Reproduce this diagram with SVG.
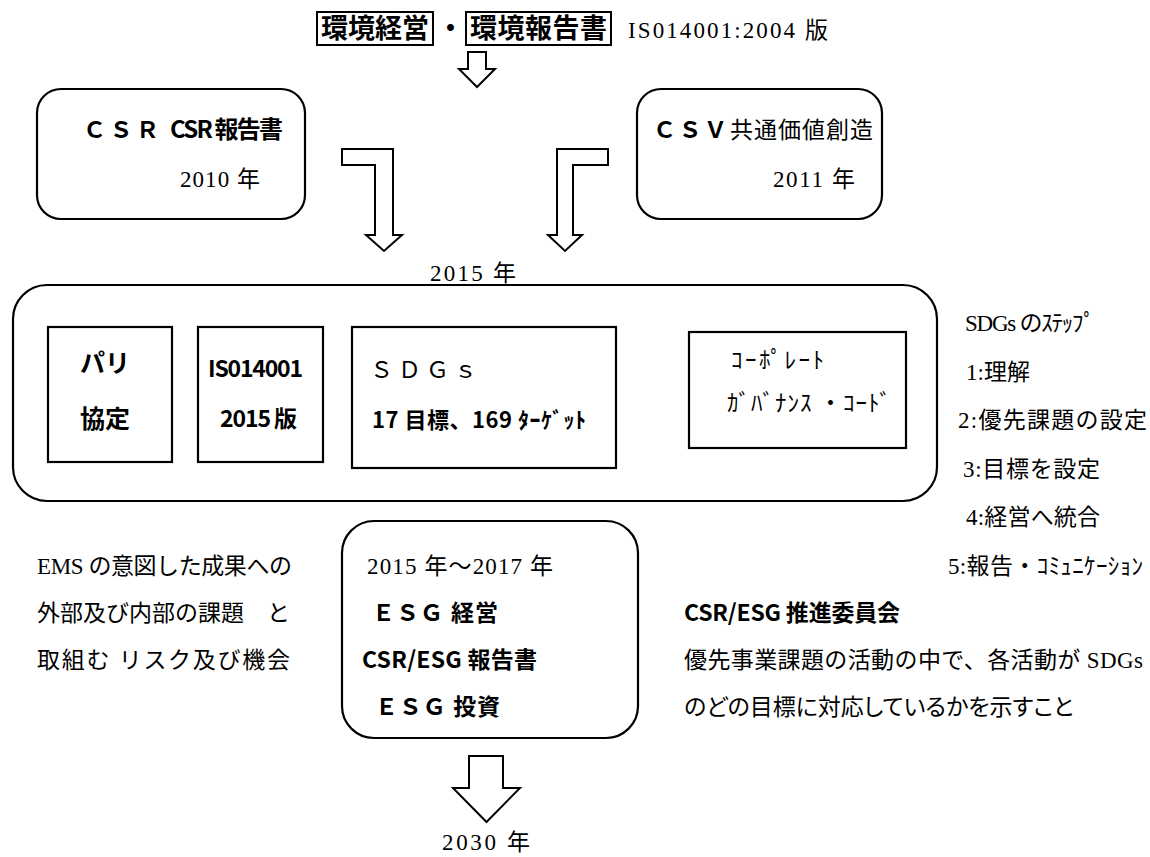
<svg xmlns="http://www.w3.org/2000/svg" width="1150" height="857" viewBox="0 0 1150 857">
<defs>
<style>
.m{font-family:'Liberation Serif','Noto Sans CJK JP',serif;font-size:23px;fill:#000}
.g{font-family:'Noto Sans CJK JP','Liberation Sans',sans-serif;font-weight:bold;fill:#000}
.p{font-feature-settings:'palt'}
.box{fill:#fff;stroke:#000;stroke-width:2.2}
.arr{fill:#fff;stroke:#000;stroke-width:2;stroke-linejoin:miter}
</style>
</defs>
<rect width="1150" height="857" fill="#fff"/>
<g id="title">
<rect x="317" y="12" width="116" height="33" fill="none" stroke="#000" stroke-width="2"/>
<text class="g" x="321" y="38" font-size="27" textLength="108">環境経営</text>
<text class="g" x="437" y="38" font-size="27">・</text>
<rect x="466" y="12" width="145" height="33" fill="none" stroke="#000" stroke-width="2"/>
<text class="g" x="470" y="38" font-size="27" textLength="137">環境報告書</text>
<text class="m" x="628" y="38" font-size="25" textLength="200">IS014001:2004 版</text>
</g>
<g id="connectors">
<path class="arr" d="M468,52 H486 V69 H495 L477,87 L459,69 H468 Z"/>
<path class="arr" d="M342,149 H393 V235 H402 L384,251 L366,235 H375 V165 H342 Z"/>
<path class="arr" d="M557,149 H608 V165 H573 V235 H582 L565,251 L548,235 H557 Z"/>
<path class="arr" d="M469,756 H503 V788 H520 L486.5,822 L453,788 H469 Z"/>
</g>
<g id="csr">
<rect class="box" x="37" y="89" width="268" height="130" rx="24"/>
<text class="m" x="83" y="138" font-size="25" font-weight="bold" textLength="76">ＣＳＲ</text>
<text class="g" x="170" y="138" font-size="24" textLength="113">CSR 報告書</text>
<text class="m" x="180" y="187" font-size="24" textLength="80">2010 年</text>
</g>
<g id="csv">
<rect class="box" x="637" y="89" width="245" height="130" rx="24"/>
<text class="m" x="653" y="138" font-size="25" font-weight="bold" textLength="74">ＣＳＶ</text>
<text class="m" x="730" y="138" font-size="24" textLength="143">共通価値創造</text>
<text class="m" x="773" y="187" font-size="24" textLength="82">2011 年</text>
</g>
<text class="m" x="430" y="281" font-size="25" textLength="86">2015 年</text>
<g id="y2015">
<rect class="box" x="13" y="285" width="924" height="216" rx="34"/>
</g>
<g id="paris">
<rect class="box" x="48" y="327" width="124" height="135"/>
<text class="g" x="80" y="372" font-size="25">パリ</text>
<text class="g" x="80" y="428" font-size="25">協定</text>
</g>
<g id="iso">
<rect class="box" x="198" y="327" width="125" height="135"/>
<text class="g" x="208" y="377" font-size="23" textLength="95">IS014001</text>
<text class="g" x="220" y="427" font-size="23" textLength="77">2015 版</text>
</g>
<g id="sdgs">
<rect class="box" x="352" y="327" width="264" height="141"/>
<text class="m" x="370" y="378" font-size="26" textLength="107">ＳＤＧｓ</text>
<text class="g" x="372" y="428" font-size="22" textLength="214">17 目標、169 ﾀｰｹﾞｯﾄ</text>
</g>
<g id="cg">
<rect class="box" x="689" y="332" width="217" height="116"/>
<text class="m" x="731" y="368" font-size="24" textLength="93">ｺｰﾎﾟﾚｰﾄ</text>
<text class="m" x="727" y="411" font-size="24" textLength="164">ｶﾞﾊﾞﾅﾝｽ ・ｺｰﾄﾞ</text>
</g>
<g id="steps">
<text class="m" x="965" y="331" textLength="130">SDGs のｽﾃｯﾌﾟ</text>
<text class="m" x="966" y="380">1:理解</text>
<text class="m" x="958" y="428" textLength="189">2:優先課題の設定</text>
<text class="m" x="963" y="477" textLength="137">3:目標を設定</text>
<text class="m" x="966" y="525" textLength="134">4:経営へ統合</text>
<text class="m" x="948" y="574" textLength="195">5:報告・ｺﾐｭﾆｹｰｼｮﾝ</text>
</g>
<g id="ems">
<text class="m" x="37" y="574" textLength="255">EMS の意図した成果への</text>
<text class="m" x="37" y="621" textLength="253">外部及び内部の課題　と</text>
<text class="m" x="37" y="668" textLength="253">取組む リスク及び機会</text>
</g>
<g id="esg">
<rect class="box" x="342" y="521" width="296" height="217" rx="32"/>
<text class="m" x="367" y="574" textLength="186">2015 年～2017 年</text>
<text class="m" x="372" y="621" font-weight="bold" textLength="126">ＥＳＧ 経営</text>
<text class="g" x="362" y="668" font-size="23" textLength="175">CSR/ESG 報告書</text>
<text class="m" x="375" y="715" font-weight="bold" textLength="125">ＥＳＧ 投資</text>
</g>
<g id="committee">
<text class="g" x="684" y="621" font-size="23" textLength="216">CSR/ESG 推進委員会</text>
<text class="m" x="684" y="668" textLength="459">優先事業課題の活動の中で、各活動が SDGs</text>
<text class="m p" x="684" y="715">のどの目標に対応しているかを示すこと</text>
</g>
<text class="m" x="442" y="850" font-size="24" textLength="88">2030 年</text>
</svg>
